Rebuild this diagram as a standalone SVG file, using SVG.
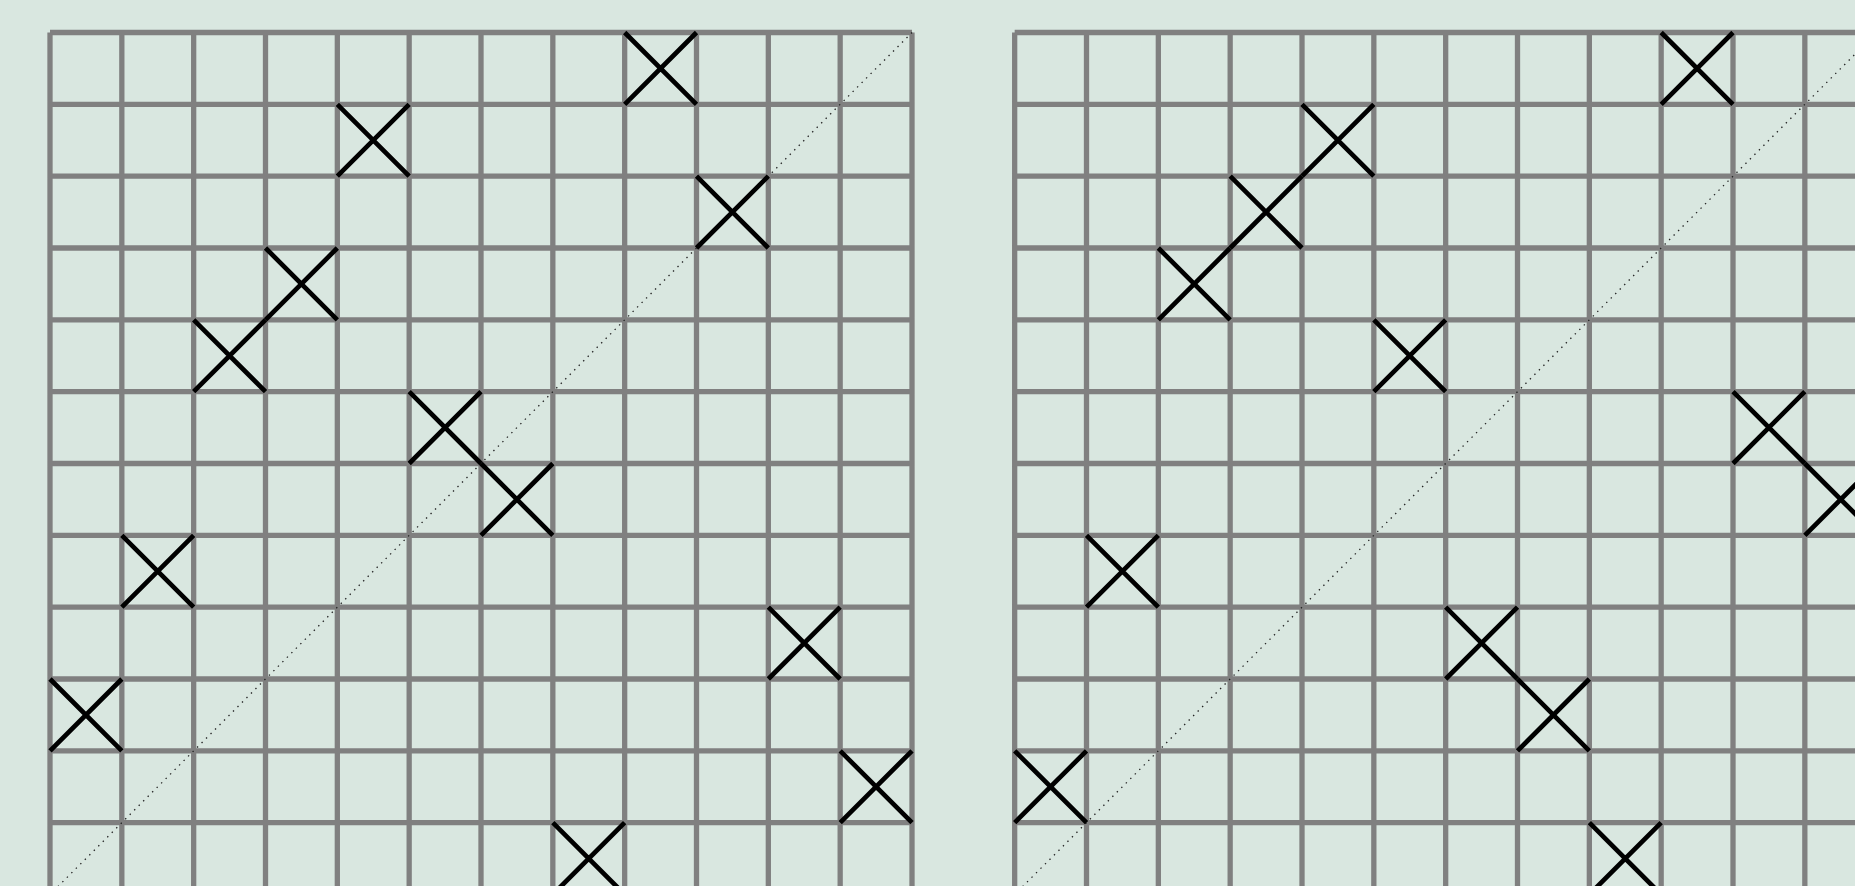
<svg xmlns="http://www.w3.org/2000/svg" xmlns:xlink="http://www.w3.org/1999/xlink" width="1855" height="886" viewBox="0 0 1855 886">
<style>
.grid{fill:none;stroke:#808080;stroke-width:5.3;stroke-linecap:butt}
.diag{fill:none;stroke:#222;stroke-width:1.3;stroke-dasharray:1.4 4.95}
.mark{fill:none;stroke:#000;stroke-width:4.7;stroke-linecap:butt}
</style>
<defs>
<path id="gridlines" class="grid" d="M0 0H862M0 71.83H862M0 143.67H862M0 215.5H862M0 287.33H862M0 359.17H862M0 431H862M0 502.83H862M0 574.67H862M0 646.5H862M0 718.33H862M0 790.17H862M0 862H862M0 0V862M71.83 0V862M143.67 0V862M215.5 0V862M287.33 0V862M359.17 0V862M431 0V862M502.83 0V862M574.67 0V862M646.5 0V862M718.33 0V862M790.17 0V862M862 0V862"/>
<path id="diagonal" class="diag" d="M862 0L0 862"/>
<path id="x" class="mark" d="M0 0L71.83 71.83M71.83 0L0 71.83"/>
</defs>
<rect width="1855" height="886" fill="#d9e7e0"/>
<g id="board-left" transform="translate(50,32.5)">
<use href="#gridlines"/>
<use href="#diagonal"/>
<g id="marks-left">
<use href="#x" x="574.67" y="0"/>
<use href="#x" x="287.33" y="71.83"/>
<use href="#x" x="646.5" y="143.67"/>
<use href="#x" x="215.5" y="215.5"/>
<use href="#x" x="143.67" y="287.33"/>
<use href="#x" x="359.17" y="359.17"/>
<use href="#x" x="431" y="431"/>
<use href="#x" x="71.83" y="502.83"/>
<use href="#x" x="718.33" y="574.67"/>
<use href="#x" x="0" y="646.5"/>
<use href="#x" x="790.17" y="718.33"/>
<use href="#x" x="502.83" y="790.17"/>
</g>
</g>
<g id="board-right" transform="translate(1014.67,32.5)">
<use href="#gridlines"/>
<use href="#diagonal"/>
<g id="marks-right">
<use href="#x" x="646.5" y="0"/>
<use href="#x" x="287.33" y="71.83"/>
<use href="#x" x="215.5" y="143.67"/>
<use href="#x" x="143.67" y="215.5"/>
<use href="#x" x="359.17" y="287.33"/>
<use href="#x" x="718.33" y="359.17"/>
<use href="#x" x="790.17" y="431"/>
<use href="#x" x="71.83" y="502.83"/>
<use href="#x" x="431" y="574.67"/>
<use href="#x" x="502.83" y="646.5"/>
<use href="#x" x="0" y="718.33"/>
<use href="#x" x="574.67" y="790.17"/>
</g>
</g>
</svg>
